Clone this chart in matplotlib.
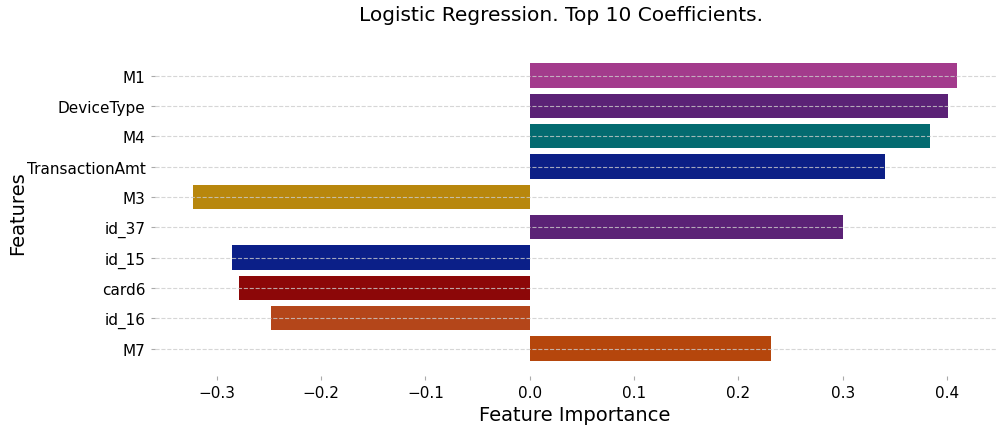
import matplotlib
matplotlib.use("Agg")
import matplotlib.pyplot as plt

features = ["M1", "DeviceType", "M4", "TransactionAmt", "M3",
            "id_37", "id_15", "card6", "id_16", "M7"]
coefs = [0.410, 0.401, 0.384, 0.341, -0.323,
         0.300, -0.285, -0.279, -0.248, 0.231]
colors = ["#a33b8c", "#5b2276", "#046b70", "#0c1f86", "#b8870d",
          "#5b2276", "#0b1f88", "#8c0708", "#b4461a", "#b5460c"]

fig = plt.figure(figsize=(9.99, 4.27), dpi=100)
ax = fig.add_axes([0.1547, 0.118, 0.842, 0.766])
ypos = list(range(len(features)))
ax.barh(ypos, coefs, color=colors, height=0.8)
ax.set_yticks(ypos)
ax.set_yticklabels(features)
ax.invert_yaxis()
ax.set_axisbelow(False)
ax.grid(axis="y", color="#cccccc", linestyle="--", linewidth=0.8, alpha=0.8)
for s in ax.spines.values():
    s.set_visible(False)
ax.tick_params(axis="both", labelsize=11, length=3, color="#aaaaaa")
ax.set_xlabel("Feature Importance", fontsize=14)
ax.set_ylabel("Features", fontsize=14)
ax.yaxis.set_label_coords(-0.151, 0.5)
fig.suptitle("Logistic Regression. Top 10 Coefficients.", fontsize=14.5, x=0.562, y=0.985)
fig.savefig("out.png", dpi=100)
